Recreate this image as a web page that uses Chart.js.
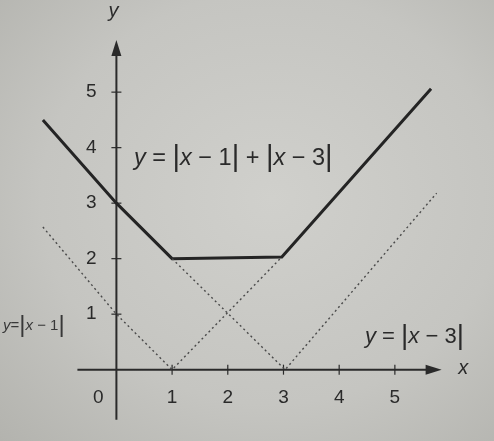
<!DOCTYPE html>
<html>
<head>
<meta charset="utf-8">
<script src="https://cdn.jsdelivr.net/npm/chart.js@4"></script>
<style>
html, body { margin: 0; padding: 0; }
body {
    width: 494px; height: 441px; overflow: hidden;
    background: radial-gradient(ellipse at 55% 45%, #d0d0cc 0%, #c5c5c1 60%, #b3b3ae 100%);
}
canvas { display: block; }
</style>
</head>
<body>
<canvas id="graph" width="494" height="441"></canvas>
<script>
// y = |x-1| + |x-3| (thick line), points as drawn in the book
const sumX = [-1.32, 0, 1, 2.97, 5.65];
const sumY = [4.5, 3, 2, 2.03, 5.06];
// y = |x-1| (dotted)
const absOneX = [-1.32, 0, 1, 2.97];
const absOneY = [2.57, 1, 0, 2.03];
// y = |x-3| (dotted)
const absThreeX = [1, 3.03, 5.75];
const absThreeY = [2, 0, 3.18];
// axis ticks
const xTicks = [1, 2, 3, 4, 5];
const yTicks = [1, 2, 3, 4, 5];

const ink = '#2a2a2a';
const fontFam = '"Liberation Sans", "DejaVu Sans", sans-serif';

function toPoints(xs, ys) {
    return xs.map((x, i) => ({ x: x, y: ys[i] }));
}

// draws text made of plain / italic / tall-bar pieces on one baseline
function drawRuns(ctx, runs, x, y, size, barSize) {
    let cx = x;
    ctx.textBaseline = 'alphabetic';
    ctx.textAlign = 'left';
    runs.forEach(r => {
        const isBar = r[0] === '|';
        const s = isBar ? barSize : size;
        ctx.font = (r[1] ? 'italic ' : '') + s + 'px ' + fontFam;
        ctx.fillText(r[0], cx, isBar ? y + (barSize - size) * 0.2 : y);
        cx += ctx.measureText(r[0]).width;
    });
}

const axesPlugin = {
    id: 'axesPlugin',
    beforeDatasetsDraw(chart) {
        const ctx = chart.ctx;
        const xs = chart.scales.x, ys = chart.scales.y;
        const ox = xs.getPixelForValue(0), oy = ys.getPixelForValue(0);
        ctx.save();
        ctx.strokeStyle = ink;
        ctx.fillStyle = ink;
        ctx.lineWidth = 2;

        // x axis with arrow
        const xEnd = xs.getPixelForValue(5.84);
        ctx.beginPath();
        ctx.moveTo(xs.getPixelForValue(-0.7), oy);
        ctx.lineTo(xEnd - 10, oy);
        ctx.stroke();
        ctx.beginPath();
        ctx.moveTo(xEnd, oy);
        ctx.lineTo(xEnd - 16, oy - 5);
        ctx.lineTo(xEnd - 16, oy + 5);
        ctx.closePath();
        ctx.fill();

        // y axis with arrow
        const yEnd = ys.getPixelForValue(5.94);
        ctx.beginPath();
        ctx.moveTo(ox, ys.getPixelForValue(-0.9));
        ctx.lineTo(ox, yEnd + 10);
        ctx.stroke();
        ctx.beginPath();
        ctx.moveTo(ox, yEnd);
        ctx.lineTo(ox - 5, yEnd + 16);
        ctx.lineTo(ox + 5, yEnd + 16);
        ctx.closePath();
        ctx.fill();

        // tick marks and labels
        ctx.lineWidth = 1.2;
        ctx.font = '19px ' + fontFam;
        ctx.textAlign = 'center';
        ctx.textBaseline = 'middle';
        xTicks.forEach(v => {
            const px = xs.getPixelForValue(v);
            ctx.beginPath();
            ctx.moveTo(px, oy - 5);
            ctx.lineTo(px, oy + 5);
            ctx.stroke();
            ctx.fillText(String(v), px, oy + 28);
        });
        yTicks.forEach(v => {
            const py = ys.getPixelForValue(v);
            ctx.beginPath();
            ctx.moveTo(ox - 5, py);
            ctx.lineTo(ox + 5, py);
            ctx.stroke();
            ctx.fillText(String(v), ox - 25, py);
        });
        ctx.fillText('0', ox - 18, oy + 28);

        // axis names
        ctx.font = 'italic 20px ' + fontFam;
        ctx.fillText('y', ox - 3, 11);
        ctx.fillText('x', xs.getPixelForValue(6.23), oy - 1);
        ctx.restore();
    },
    afterDatasetsDraw(chart) {
        const ctx = chart.ctx;
        ctx.save();
        ctx.fillStyle = ink;
        drawRuns(ctx, [['y', 1], [' = ', 0], ['|', 0], ['x', 1], [' − 1', 0], ['|', 0],
            [' + ', 0], ['|', 0], ['x', 1], [' − 3', 0], ['|', 0]], 134, 165, 23.5, 29);
        drawRuns(ctx, [['y', 1], [' = ', 0], ['|', 0], ['x', 1], [' − 3', 0], ['|', 0]], 365, 343, 22, 28);
        ctx.fillStyle = '#383838';
        drawRuns(ctx, [['y', 1], ['=', 0], ['|', 0], ['x', 1], [' − 1', 0], ['|', 0]], 3, 330, 15, 24);
        ctx.restore();
    }
};

new Chart(document.getElementById('graph'), {
    type: 'scatter',
    data: {
        datasets: [
            {
                data: toPoints(absOneX, absOneY),
                showLine: true,
                borderColor: '#4a4a4a',
                borderWidth: 1.4,
                borderDash: [2, 3],
                pointRadius: 0
            },
            {
                data: toPoints(absThreeX, absThreeY),
                showLine: true,
                borderColor: '#4a4a4a',
                borderWidth: 1.4,
                borderDash: [2, 3],
                pointRadius: 0
            },
            {
                data: toPoints(sumX, sumY),
                showLine: true,
                borderColor: '#242424',
                borderWidth: 3,
                borderJoinStyle: 'miter',
                pointRadius: 0
            }
        ]
    },
    options: {
        responsive: false,
        animation: false,
        layout: { padding: 0 },
        plugins: {
            legend: { display: false },
            tooltip: { enabled: false }
        },
        scales: {
            x: { type: 'linear', min: -2.09, max: 6.78, display: false },
            y: { type: 'linear', min: -1.285, max: 6.66, display: false }
        }
    },
    plugins: [axesPlugin]
});
</script>
</body>
</html>
